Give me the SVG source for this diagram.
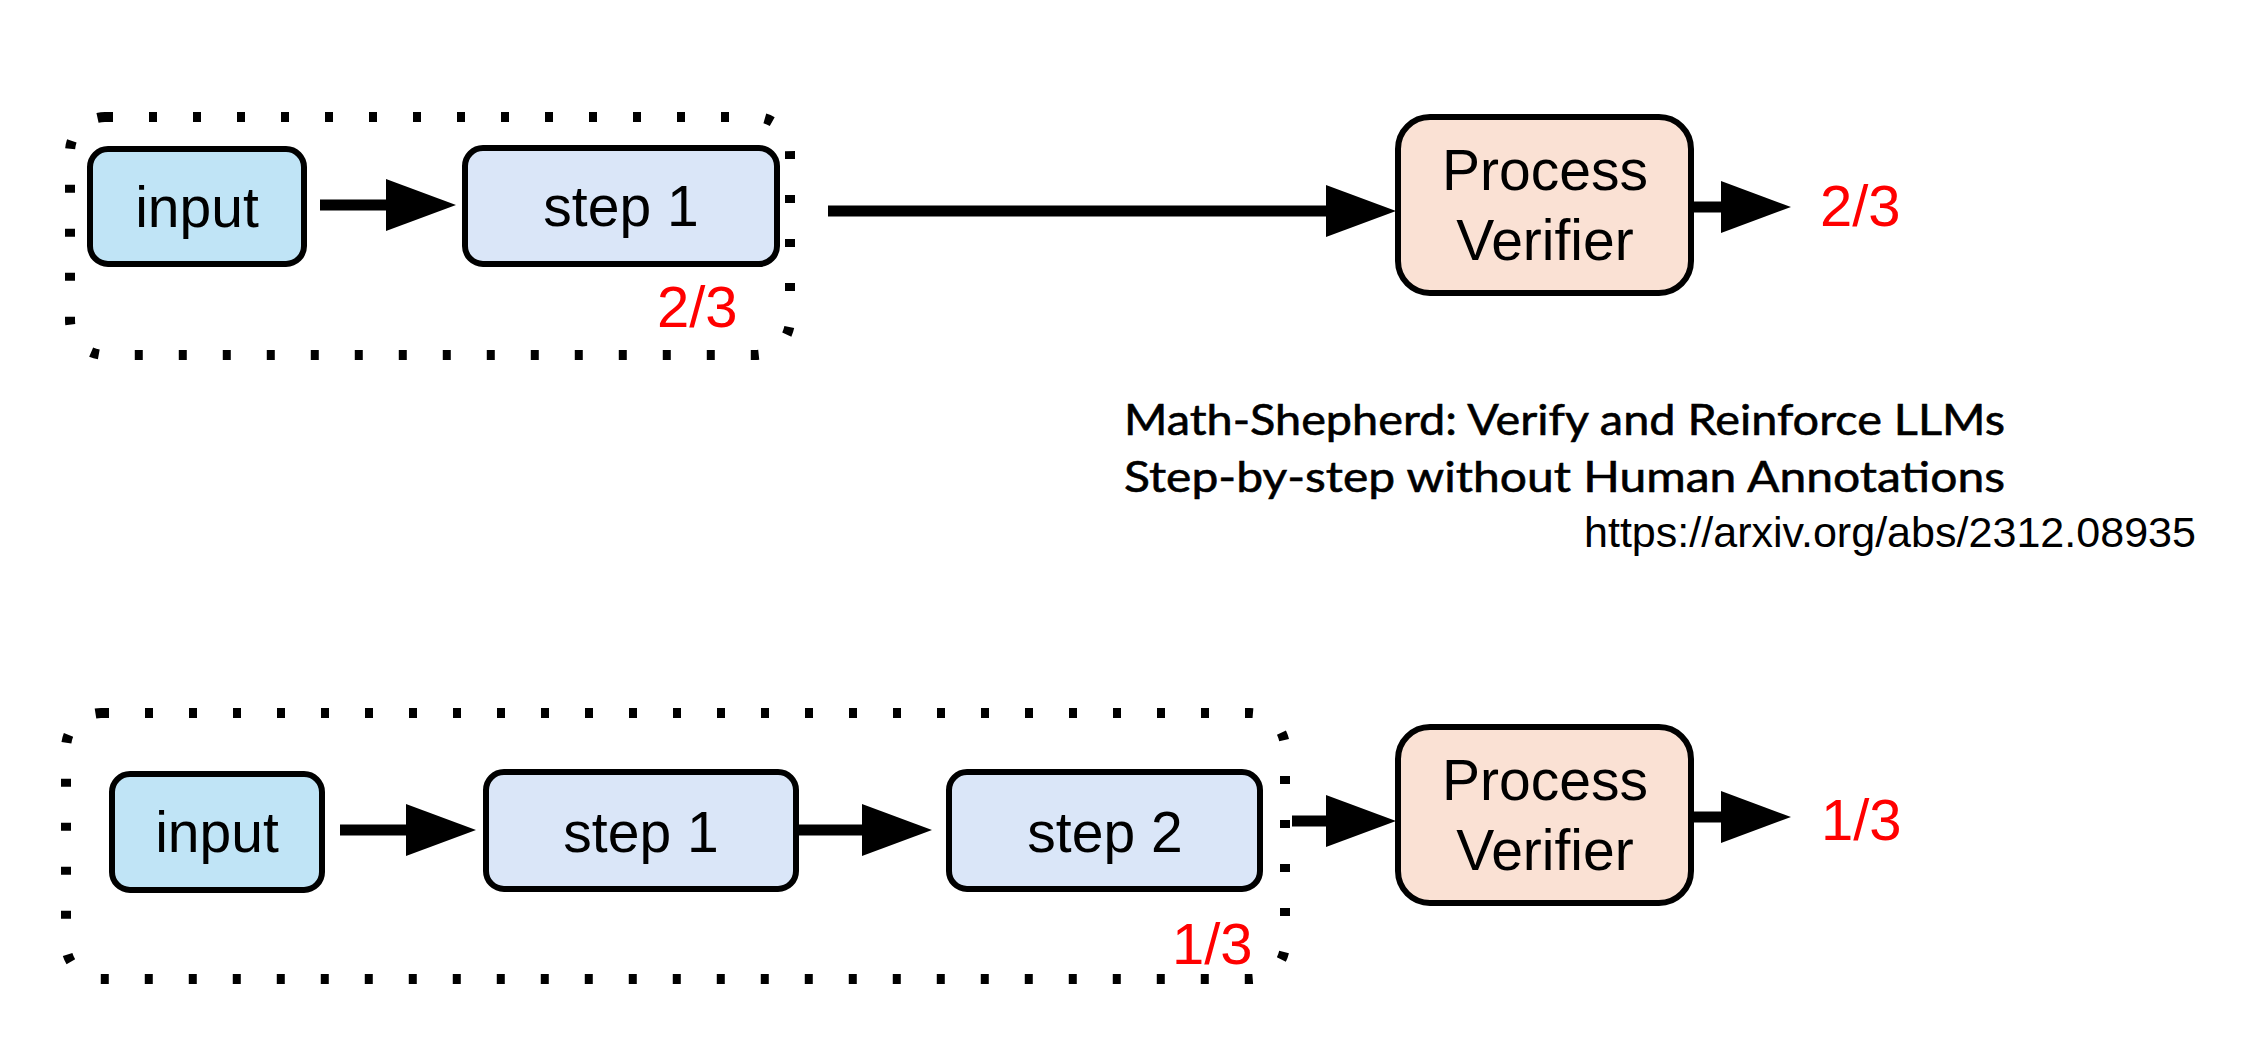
<svg xmlns="http://www.w3.org/2000/svg" width="2264" height="1040" viewBox="0 0 2264 1040">
<defs>
<style>
.bg{fill:#ffffff}
.node rect{stroke:#000;stroke-width:6}
.in rect{fill:#c0e4f6}
.st rect{fill:#dae6f8}
.pv rect{fill:#fae1d4}
.lbl{font-family:"Liberation Sans",Arial,sans-serif;font-size:57px;fill:#000;text-anchor:middle}
.red{font-family:"Liberation Sans",Arial,sans-serif;font-size:58px;fill:#ff0000}
.dot{fill:none;stroke:#000;stroke-width:10;stroke-dasharray:8 36}
.edge{stroke:#000;stroke-width:11;fill:none;marker-end:url(#ah)}
.ref{font-family:Lato,"Open Sans",sans-serif;font-size:43px;fill:#000;stroke:#000;stroke-width:0.6px}
.url{font-family:"Liberation Sans",Arial,sans-serif;font-size:42px;fill:#000}
</style>
<marker id="ah" markerUnits="userSpaceOnUse" markerWidth="72" markerHeight="54" refX="0" refY="26" orient="auto" overflow="visible">
<path d="M0,0 L70,26 L0,52 Z" fill="#000"/>
</marker>
</defs>
<rect class="bg" x="0" y="0" width="2264" height="1040"/>

<g id="groups">
<rect id="group-top" class="dot" x="70" y="117" width="720" height="238" rx="35"/>
<rect id="group-bottom" class="dot" x="66" y="713" width="1219" height="266" rx="35"/>
</g>

<g id="connectors">
<path class="edge" d="M320,205 L386,205"/>
<path class="edge" d="M828,211 L1326,211"/>
<path class="edge" d="M1691,207 L1721,207"/>
<path class="edge" d="M340,830 L406,830"/>
<path class="edge" d="M795,830 L862,830"/>
<path class="edge" d="M1292,821 L1326,821"/>
<path class="edge" d="M1692,817 L1721,817"/>
</g>

<g id="top-input" class="node in">
<rect x="90" y="149" width="214" height="115" rx="18"/>
<text class="lbl" x="197" y="227">input</text>
</g>
<g id="top-step1" class="node st">
<rect x="465" y="148" width="312" height="116" rx="18"/>
<text class="lbl" x="621" y="226">step 1</text>
</g>
<g id="top-verifier" class="node pv">
<rect x="1398" y="117" width="293" height="176" rx="32"/>
<text class="lbl" x="1545" y="190">Process</text>
<text class="lbl" x="1545" y="260">Verifier</text>
</g>
<text id="top-score-in" class="red" x="657" y="327">2/3</text>
<text id="top-score-out" class="red" x="1820" y="226">2/3</text>

<g id="bottom-input" class="node in">
<rect x="112" y="774" width="210" height="116" rx="18"/>
<text class="lbl" x="217" y="852">input</text>
</g>
<g id="bottom-step1" class="node st">
<rect x="486" y="772" width="310" height="117" rx="18"/>
<text class="lbl" x="641" y="852">step 1</text>
</g>
<g id="bottom-step2" class="node st">
<rect x="949" y="772" width="311" height="117" rx="18"/>
<text class="lbl" x="1105" y="852">step 2</text>
</g>
<g id="bottom-verifier" class="node pv">
<rect x="1398" y="727" width="293" height="176" rx="32"/>
<text class="lbl" x="1545" y="800">Process</text>
<text class="lbl" x="1545" y="870">Verifier</text>
</g>
<text id="bottom-score-in" class="red" x="1172" y="964">1/3</text>
<text id="bottom-score-out" class="red" x="1821" y="840">1/3</text>

<g id="reference">
<text class="ref" x="1124" y="435" textLength="881" lengthAdjust="spacingAndGlyphs">Math-Shepherd: Verify and Reinforce LLMs</text>
<text class="ref" x="1124" y="492" textLength="881" lengthAdjust="spacingAndGlyphs">Step-by-step without Human Annotations</text>
<text class="url" x="1584" y="547" textLength="612" lengthAdjust="spacingAndGlyphs">https://arxiv.org/abs/2312.08935</text>
</g>
</svg>
